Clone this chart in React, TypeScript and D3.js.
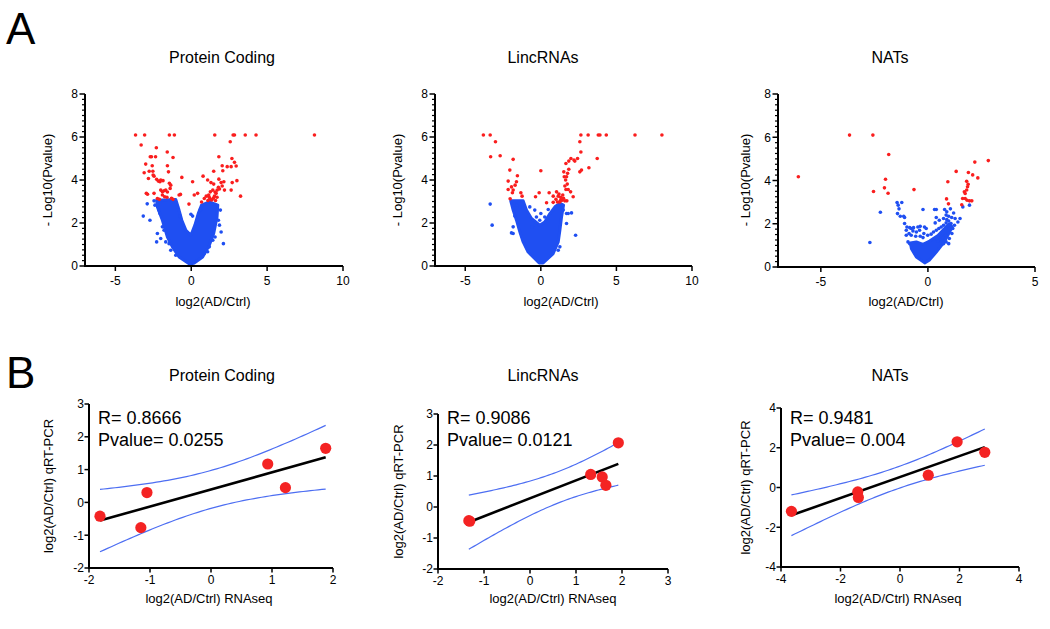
import React from "react";
import * as d3 from "d3";

type P = [number, number];

// ---------------- Panel A: volcano plots ----------------
const volcanoTitles = ["Protein Coding", "LincRNAs", "NATs"];
const volcanoXTicksWide = [-5, 0, 5, 10];
const volcanoXTicksNarrow = [-5, 0, 5];
const volcanoYTicks = [0, 2, 4, 6, 8];
const volcanoXLabel = "log2(AD/Ctrl)";
const volcanoYLabel = "- Log10(Pvalue)";

// Protein coding: significant (red) genes [log2FC, -log10 P]
const pcRed: P[] = [
  [-3.67, 6.09], [-3.07, 6.09], [-1.44, 6.09], [-1.11, 6.09], [1.55, 6.09], [2.76, 6.09], [2.85, 6.09], [3.56, 6.09], [4.27, 6.09], [8.12, 6.09],
  [-3.3, 5.63], [2.57, 5.78], [-2.3, 5.5], [-1.58, 5.3], [-2.7, 5.08], [-2.62, 5.08], [-2.35, 5.08], [-1.2, 5.05], [1.82, 5.08], [-3.0, 4.74],
  [-1.57, 4.66], [-2.57, 4.66], [2.68, 5.0], [2.85, 4.82], [2.37, 4.62], [2.63, 4.62], [2.08, 4.43], [2.96, 4.65], [2.04, 4.66], [1.48, 4.41],
  [-3.1, 4.34], [-2.77, 4.41], [-2.53, 4.41], [-2.51, 4.23], [-2.82, 4.07], [-2.45, 4.18], [-2.28, 4.03], [-2.17, 3.95], [-2.01, 4.0], [-1.86, 3.97],
  [-1.5, 4.38], [-0.62, 4.12], [0.09, 3.92], [0.78, 4.18], [1.08, 4.0], [1.3, 3.88], [1.48, 3.81], [1.82, 4.04], [1.97, 3.88], [2.15, 3.92],
  [2.04, 3.72], [1.79, 3.66], [1.71, 3.53], [1.57, 3.44], [1.86, 3.58], [2.19, 3.53], [2.63, 3.53], [2.7, 3.88], [3.01, 3.97], [3.25, 3.25],
  [-2.01, 3.53], [-1.9, 3.45], [-1.79, 3.5], [-1.68, 3.53], [-1.57, 3.44], [-1.35, 3.76], [-1.39, 3.61], [-2.06, 3.92], [-1.44, 3.85],
  [-2.96, 3.38], [-2.88, 3.34], [-2.45, 3.38], [-2.23, 3.14], [-1.75, 3.22], [-0.71, 3.33], [-0.15, 2.88], [0.2, 3.3], [0.42, 3.38], [0.68, 2.98],
  [0.86, 3.14], [0.99, 3.25], [1.19, 3.19], [1.35, 3.07], [1.53, 3.25], [1.64, 3.38], [1.42, 3.53], [1.26, 3.45],
  [1.1, 3.05], [1.25, 3.1], [1.45, 3.15], [1.6, 3.05], [1.7, 3.2], [1.15, 3.3], [-1.9, 3.3], [-1.6, 3.2], [-2.1, 3.1], [-1.3, 3.15], [-1.2, 3.1], [-0.8, 3.3]
];
// Protein coding: scattered non-significant genes around the dense cloud
const pcBlue: P[] = [
  [-2.9, 2.89], [-3.16, 2.32], [-2.72, 2.13], [-2.23, 1.51], [-2.28, 1.12], [-2.01, 1.28], [-2.45, 3.03], [-1.9, 1.82], [-1.79, 1.66], [1.97, 1.58],
  [1.86, 1.9], [2.12, 1.04], [1.42, 1.2], [1.19, 0.89], [-0.02, 2.41], [0.09, 2.32], [1.92, 2.6], [1.79, 2.13], [1.57, 1.35], [1.08, 0.66],
  [0.86, 0.58], [-1.46, 1.04], [-1.68, 1.12], [-1.35, 0.73], [-1.02, 0.5], [-2.06, 2.44], [-2.12, 2.59], [-2.39, 2.83], [-0.91, 2.75], [-0.73, 2.32],
  [0.38, 2.13], [0.6, 2.62]
];
// Protein coding: outline of the dense non-significant cloud
const pcCore: P[] = [
  [-0.09, 0.08], [-0.8, 0.42], [-1.24, 0.89], [-1.57, 1.35], [-1.9, 2.13], [-2.23, 2.75], [-2.28, 3.06], [-1.02, 3.09], [-0.8, 2.59], [-0.62, 2.13],
  [-0.35, 1.66], [-0.02, 1.43], [0.24, 1.9], [0.46, 2.44], [0.68, 2.83], [1.19, 2.98], [1.75, 2.83], [1.7, 2.28], [1.48, 1.51], [1.19, 0.97],
  [0.75, 0.42], [0.2, 0.14]
];

// LincRNAs
const lincRed: P[] = [
  [-3.8, 6.09], [-3.35, 6.09], [2.65, 6.09], [3.13, 6.09], [3.8, 6.09], [3.91, 6.09], [4.33, 6.09], [6.23, 6.09], [8.01, 6.09],
  [-3.0, 5.78], [2.58, 5.78], [2.65, 5.3], [-3.32, 5.08], [-2.69, 5.13], [-1.83, 4.96], [3.73, 5.0], [3.18, 4.57],
  [1.99, 5.0], [1.85, 4.88], [2.25, 4.88], [2.43, 5.0], [1.66, 4.77], [2.19, 4.93],
  [1.52, 4.38], [1.85, 4.5], [1.77, 4.31], [2.58, 4.38], [2.69, 4.46], [1.55, 4.15], [1.7, 4.15], [1.64, 4.0], [1.75, 3.81], [1.59, 3.72],
  [1.81, 3.56], [1.97, 3.45], [2.14, 3.22], [1.66, 3.56], [0.0, 4.43], [-2.05, 4.46], [-1.55, 4.2],
  [-2.16, 3.95], [-1.61, 3.92], [-1.7, 3.76], [-1.94, 3.68], [-2.16, 3.56], [-1.83, 3.53], [-1.88, 3.41], [-1.32, 3.41], [-2.03, 3.13],
  [-1.24, 3.25], [-0.11, 3.41], [-0.35, 3.22], [0.55, 3.41], [0.82, 3.25], [0.38, 2.94], [1.04, 3.45], [1.15, 3.25], [1.32, 3.19], [1.26, 2.98],
  [1.1, 2.98], [1.41, 3.06], [1.59, 3.03], [1.72, 3.03], [0.82, 2.96], [1.2, 3.35], [1.45, 3.3], [1.3, 3.05], [1.5, 3.15], [1.0, 3.1]
];
const lincBlue: P[] = [
  [-3.35, 2.88], [-3.22, 1.9], [2.3, 1.43], [-1.83, 1.51], [2.03, 2.47], [1.7, 2.44], [-0.4, 2.6], [0.0, 2.44], [0.26, 2.28], [-0.73, 2.75],
  [-1.61, 2.83], [-1.72, 2.32], [-1.83, 1.82], [-1.94, 1.54], [1.26, 0.89], [1.15, 0.73], [1.48, 2.6], [1.81, 2.44], [1.7, 1.98], [-0.07, 2.13],
  [-0.29, 2.28], [0.49, 2.63], [-0.57, 1.82], [-1.39, 2.75]
];
const lincCore: P[] = [
  [-0.11, 0.14], [-0.84, 0.65], [-1.17, 1.12], [-1.39, 1.59], [-1.61, 2.13], [-1.83, 2.6], [-1.99, 3.03], [-1.17, 3.03], [-0.95, 2.6], [-0.62, 2.21],
  [-0.07, 1.9], [0.26, 2.05], [0.6, 2.44], [0.97, 2.78], [1.26, 2.91], [1.5, 2.83], [1.37, 2.28], [1.26, 1.66], [1.15, 1.12], [0.82, 0.58], [0.15, 0.14]
];

// NATs
const natRed: P[] = [
  [-6.05, 4.17], [-3.66, 6.1], [-2.57, 6.1], [-1.83, 5.2], [-1.98, 4.06], [-2.54, 3.49], [-2.03, 3.66], [-1.86, 3.41], [-0.65, 3.58], [0.93, 3.94],
  [0.87, 3.15], [0.96, 2.92], [1.32, 4.42], [2.19, 4.85], [2.82, 4.92], [1.89, 4.37], [2.09, 4.26], [2.33, 4.12], [1.81, 3.96], [1.88, 3.83],
  [1.85, 3.71], [1.81, 3.56], [1.7, 3.48], [1.74, 3.4], [1.62, 3.17], [1.74, 3.17], [1.83, 3.09], [1.94, 3.06], [2.05, 3.06], [1.58, 2.88]
];
const natBlue: P[] = [
  [-2.71, 1.13], [-2.22, 2.53],
  [-1.44, 2.98], [-1.22, 2.98], [-1.39, 2.86], [-1.35, 2.69], [-1.42, 2.47], [-1.29, 2.35], [-1.13, 2.35], [-1.09, 2.29],
  [-0.23, 2.66], [0.31, 2.66], [0.39, 2.66],
  [0.78, 2.66], [1.05, 2.69], [0.88, 2.55], [1.2, 2.5], [0.85, 2.4], [0.73, 2.24], [0.97, 2.35], [1.11, 2.29], [1.27, 2.24], [1.5, 2.24], [1.4, 2.08],
  [1.24, 1.93], [1.16, 1.78], [0.88, 2.19], [0.39, 2.29], [0.34, 2.04], [0.53, 2.16],
  [-1.09, 2.01], [-0.98, 1.85], [-0.85, 1.82], [-0.78, 1.78], [-0.67, 1.82], [-0.47, 1.85], [-0.36, 1.88], [-0.16, 1.85], [-0.08, 1.78], [-0.39, 1.7],
  [-0.54, 1.62], [-0.7, 1.67], [-0.88, 1.55], [-1.01, 1.47], [-0.78, 1.47], [-0.57, 1.42], [-0.36, 1.42], [-0.23, 1.36], [-0.19, 1.55], [-0.93, 1.16],
  [-0.85, 1.08], [-1.01, 1.7],
  [-0.01, 1.47], [0.15, 1.52], [0.26, 1.62], [0.39, 1.7], [0.51, 1.78], [0.62, 1.85], [0.73, 1.93], [0.85, 2.04], [0.97, 2.13], [1.08, 2.01],
  [1.0, 1.78], [0.93, 1.58], [0.82, 1.47], [0.7, 1.36], [0.57, 1.27], [0.46, 1.21], [1.0, 1.32], [1.12, 1.55], [0.97, 1.08], [0.85, 1.16], [0.73, 1.08],
  [1.94, 2.86], [1.63, 2.78]
];
const natCore: P[] = [
  [-0.15, 0.19], [-0.54, 0.46], [-0.77, 0.85], [-0.82, 1.11], [-0.54, 1.16], [-0.23, 1.05], [0.08, 1.2], [0.47, 1.46], [0.82, 1.82], [1.0, 2.0],
  [1.13, 1.85], [0.93, 1.46], [0.7, 1.08], [0.39, 0.69], [0.08, 0.33]
];

// ---------------- Panel B: qRT-PCR validation ----------------
const corrXLabel = "log2(AD/Ctrl) RNAseq";
const corrYLabel = "log2(AD/Ctrl) qRT-PCR";
const pcRnaseq = [-1.82, -1.15, -1.05, 0.93, 1.22, 1.88];
const pcQpcr = [-0.42, -0.77, 0.3, 1.17, 0.45, 1.65];
const lincRnaseq = [-1.33, -1.31, 1.32, 1.57, 1.65, 1.92];
const lincQpcr = [-0.44, -0.46, 1.05, 0.97, 0.7, 2.07];
const natRnaseq = [-3.65, -1.42, -1.4, 0.95, 1.92, 2.85];
const natQpcr = [-1.2, -0.22, -0.5, 0.62, 2.3, 1.77];
const pcStats = ["R= 0.8666", "Pvalue= 0.0255"];
const lincStats = ["R= 0.9086", "Pvalue= 0.0121"];
const natStats = ["R= 0.9481", "Pvalue= 0.004"];
const pcXTicks = [-2, -1, 0, 1, 2];
const pcYTicks = [-2, -1, 0, 1, 2, 3];
const lincXTicks = [-2, -1, 0, 1, 2, 3];
const lincYTicks = [-2, -1, 0, 1, 2, 3];
const natXTicks = [-4, -2, 0, 2, 4];
const natYTicks = [-4, -2, 0, 2, 4];

// two-sided 95% t critical values
const tCrit: Record<number, number> = { 3: 3.182, 4: 2.776, 5: 2.571 };

const FONT = "'Liberation Sans', Arial, Helvetica, sans-serif";
const BLUE = "#1f4ff2";
const RED = "#fa1e1e";
const BAND = "#4d6ef2";

type VProps = {
  left: number; right: number; top: number; bottom: number;
  xDomain: [number, number]; xTicks: number[];
  red: P[]; blue: P[]; core: P[];
  title: string; titleX: number; yLabX: number; xLabX: number;
};

function Volcano(p: VProps) {
  const x = d3.scaleLinear().domain(p.xDomain).range([p.left, p.right]);
  const y = d3.scaleLinear().domain([0, 8]).range([p.bottom, p.top]);
  const coreD = d3.line<P>().x(d => x(d[0])).y(d => y(d[1])).curve(d3.curveLinearClosed)(p.core) || "";
  const minor = d3.range(0, 8.001, 0.25).filter(v => !volcanoYTicks.includes(v));
  return (
    <g fontFamily={FONT}>
      <text x={p.titleX} y={63} fontSize={16} textAnchor="middle">{p.title}</text>
      <path d={coreD} fill={BLUE} stroke={BLUE} strokeWidth={3} strokeLinejoin="round" />
      {p.blue.map((d, i) => <circle key={"b" + i} cx={x(d[0])} cy={y(d[1])} r={1.8} fill={BLUE} />)}
      {p.red.map((d, i) => <circle key={"r" + i} cx={x(d[0])} cy={y(d[1])} r={1.8} fill={RED} />)}
      {/* axes */}
      <line x1={p.left} x2={p.left} y1={p.top} y2={p.bottom + 1} stroke="#000" strokeWidth={2} />
      <line x1={p.left - 1} x2={p.right} y1={p.bottom} y2={p.bottom} stroke="#000" strokeWidth={2} />
      {volcanoYTicks.map(v => (
        <g key={"yt" + v}>
          <line x1={p.left - 5.5} x2={p.left} y1={y(v)} y2={y(v)} stroke="#000" strokeWidth={1.5} />
          <text x={p.left - 7} y={y(v) + 4.3} fontSize={12} textAnchor="end">{v}</text>
        </g>
      ))}
      {minor.map(v => (
        <line key={"ym" + v} x1={p.left - 3} x2={p.left} y1={y(v)} y2={y(v)} stroke="#000" strokeWidth={1.2} />
      ))}
      {p.xTicks.map(v => (
        <g key={"xt" + v}>
          <line x1={x(v)} x2={x(v)} y1={p.bottom} y2={p.bottom + 5} stroke="#000" strokeWidth={1.5} />
          <text x={x(v)} y={p.bottom + 19} fontSize={12} textAnchor="middle">{v}</text>
        </g>
      ))}
      <text x={p.xLabX} y={306} fontSize={13} textAnchor="middle">{volcanoXLabel}</text>
      <text transform={`translate(${p.yLabX},180) rotate(-90)`} fontSize={13} textAnchor="middle" dy="0.35em">{volcanoYLabel}</text>
    </g>
  );
}

type CProps = {
  left: number; right: number; top: number; bottom: number;
  xDomain: [number, number]; yDomain: [number, number];
  xTicks: number[]; yTicks: number[];
  xs: number[]; ys: number[]; stats: string[];
  title: string; titleX: number; yLabX: number; xLabX: number;
};

function Corr(p: CProps) {
  const x = d3.scaleLinear().domain(p.xDomain).range([p.left, p.right]);
  const y = d3.scaleLinear().domain(p.yDomain).range([p.bottom, p.top]);
  const n = p.xs.length;
  const mx = d3.mean(p.xs)!;
  const my = d3.mean(p.ys)!;
  let sxx = 0, sxy = 0, syy = 0;
  for (let i = 0; i < n; i++) {
    sxx += (p.xs[i] - mx) ** 2;
    sxy += (p.xs[i] - mx) * (p.ys[i] - my);
    syy += (p.ys[i] - my) ** 2;
  }
  const slope = sxy / sxx;
  const icpt = my - slope * mx;
  const s = Math.sqrt((syy - sxy * sxy / sxx) / (n - 2));
  const t = tCrit[n - 2];
  const [x0, x1] = d3.extent(p.xs) as [number, number];
  const xsSample = d3.range(0, 61).map(i => x0 + (x1 - x0) * i / 60);
  const half = (v: number) => t * s * Math.sqrt(1 / n + (v - mx) ** 2 / sxx);
  const ln = d3.line<number[]>().x(d => x(d[0])).y(d => y(d[1]));
  const upper = ln(xsSample.map(v => [v, icpt + slope * v + half(v)])) || "";
  const lower = ln(xsSample.map(v => [v, icpt + slope * v - half(v)])) || "";
  const fitD = ln([[x0, icpt + slope * x0], [x1, icpt + slope * x1]]) || "";
  const midY = (p.top + p.bottom) / 2;
  return (
    <g fontFamily={FONT}>
      <text x={p.titleX} y={381} fontSize={16} textAnchor="middle">{p.title}</text>
      <path d={upper} fill="none" stroke={BAND} strokeWidth={1.2} />
      <path d={lower} fill="none" stroke={BAND} strokeWidth={1.2} />
      <path d={fitD} fill="none" stroke="#000" strokeWidth={2.6} />
      {p.xs.map((v, i) => <circle key={i} cx={x(v)} cy={y(p.ys[i])} r={5.6} fill="#f42323" />)}
      <line x1={p.left} x2={p.left} y1={p.top} y2={p.bottom + 1} stroke="#000" strokeWidth={2} />
      <line x1={p.left - 1} x2={p.right} y1={p.bottom} y2={p.bottom} stroke="#000" strokeWidth={2} />
      {p.yTicks.map(v => (
        <g key={"yt" + v}>
          <line x1={p.left - 4.5} x2={p.left} y1={y(v)} y2={y(v)} stroke="#000" strokeWidth={1.5} />
          <text x={p.left - 5} y={y(v) + 4.3} fontSize={12} textAnchor="end">{v}</text>
        </g>
      ))}
      {p.xTicks.map(v => (
        <g key={"xt" + v}>
          <line x1={x(v)} x2={x(v)} y1={p.bottom} y2={p.bottom + 4.5} stroke="#000" strokeWidth={1.5} />
          <text x={x(v)} y={p.bottom + 16} fontSize={12} textAnchor="middle">{v}</text>
        </g>
      ))}
      <text x={p.left + 9} y={424} fontSize={18}>{p.stats[0]}</text>
      <text x={p.left + 9} y={446} fontSize={18}>{p.stats[1]}</text>
      <text x={p.xLabX} y={603} fontSize={13} textAnchor="middle">{corrXLabel}</text>
      <text transform={`translate(${p.yLabX},${midY}) rotate(-90)`} fontSize={13} textAnchor="middle" dy="0.35em">{corrYLabel}</text>
    </g>
  );
}

export default function App() {
  return (
    <svg width={1050} height={629} style={{ position: "absolute", left: 0, top: 0, background: "#fff" }}>
      <rect width={1050} height={629} fill="#fff" />
      <text x={6} y={44} fontSize={44} fontFamily={FONT}>A</text>
      <text x={6} y={388} fontSize={44} fontFamily={FONT}>B</text>
      <Volcano left={85} right={343} top={94} bottom={266} xDomain={[-7, 10]} xTicks={volcanoXTicksWide}
        red={pcRed} blue={pcBlue} core={pcCore} title={volcanoTitles[0]} titleX={222} yLabX={47} xLabX={213} />
      <Volcano left={435} right={692} top={94} bottom={266} xDomain={[-7, 10]} xTicks={volcanoXTicksWide}
        red={lincRed} blue={lincBlue} core={lincCore} title={volcanoTitles[1]} titleX={543} yLabX={397} xLabX={561} />
      <Volcano left={778} right={1035} top={94} bottom={267} xDomain={[-7, 5]} xTicks={volcanoXTicksNarrow}
        red={natRed} blue={natBlue} core={natCore} title={volcanoTitles[2]} titleX={890} yLabX={745} xLabX={906} />
      <Corr left={89} right={333} top={404} bottom={568} xDomain={[-2, 2]} yDomain={[-2, 3]} xTicks={pcXTicks} yTicks={pcYTicks}
        xs={pcRnaseq} ys={pcQpcr} stats={pcStats} title={volcanoTitles[0]} titleX={222} yLabX={48} xLabX={209} />
      <Corr left={438} right={668} top={414} bottom={569} xDomain={[-2, 3]} yDomain={[-2, 3]} xTicks={lincXTicks} yTicks={lincYTicks}
        xs={lincRnaseq} ys={lincQpcr} stats={lincStats} title={volcanoTitles[1]} titleX={543} yLabX={398} xLabX={553} />
      <Corr left={781} right={1019} top={408} bottom={567} xDomain={[-4, 4]} yDomain={[-4, 4]} xTicks={natXTicks} yTicks={natYTicks}
        xs={natRnaseq} ys={natQpcr} stats={natStats} title={volcanoTitles[2]} titleX={890} yLabX={745} xLabX={898} />
    </svg>
  );
}
